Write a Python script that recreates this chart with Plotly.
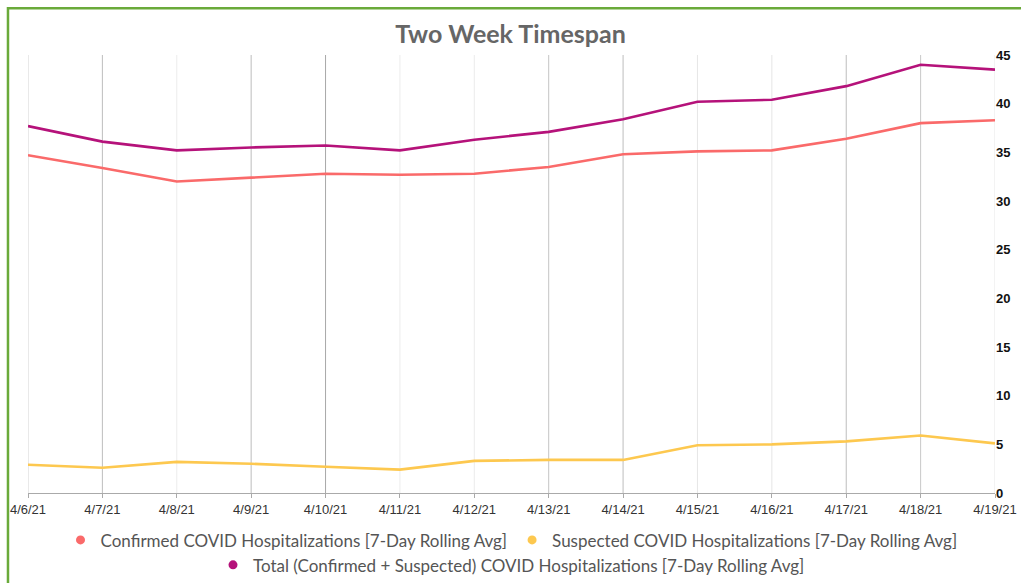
import plotly.graph_objects as go

dates = ["4/6/21", "4/7/21", "4/8/21", "4/9/21", "4/10/21", "4/11/21", "4/12/21",
         "4/13/21", "4/14/21", "4/15/21", "4/16/21", "4/17/21", "4/18/21", "4/19/21"]
confirmed = [34.7, 33.4, 32.0, 32.4, 32.8, 32.7, 32.8, 33.5, 34.8, 35.1, 35.2, 36.4, 38.0, 38.3]
suspected = [2.9, 2.6, 3.2, 3.0, 2.7, 2.4, 3.3, 3.4, 3.4, 4.9, 5.0, 5.3, 5.9, 5.1]
total = [37.7, 36.1, 35.2, 35.5, 35.7, 35.2, 36.3, 37.1, 38.4, 40.2, 40.4, 41.8, 44.0, 43.5]
y_ticks = [0, 5, 10, 15, 20, 25, 30, 35, 40, 45]

# vertical grid lines are drawn in slightly different greys in the original
grid_greys = ["#d4d4d4", "#bdbdbd", "#ececec", "#bdbdbd", "#a9a9a9", "#ececec", "#ececec",
              "#c4c4c4", "#bdbdbd", "#e6e6e6", "#e6e6e6", "#bdbdbd", "#c8c8c8", "#e6e6e6"]

series = [
    ("Confirmed COVID Hospitalizations [7-Day Rolling Avg]", confirmed, "#fa6a6a", "legend"),
    ("Suspected COVID Hospitalizations [7-Day Rolling Avg]", suspected, "#fdc84f", "legend"),
    ("Total (Confirmed + Suspected) COVID Hospitalizations [7-Day Rolling Avg]", total, "#b5127a", "legend2"),
]

fig = go.Figure()
for name, vals, col, lg in series:
    fig.add_trace(go.Scatter(x=dates, y=vals, mode='lines', name=name,
                             line=dict(color=col, width=2.6), showlegend=False))
# legend entries with round dots (two legends so the rows wrap like the original)
for name, vals, col, lg in series:
    fig.add_trace(go.Scatter(x=[None], y=[None], mode='markers', name=name, legend=lg,
                             marker=dict(color=col, size=9)))

for d, g in zip(dates, grid_greys):
    fig.add_vline(x=d, line=dict(color=g, width=1), layer='below')

# green frame round the chart
fig.add_shape(type='rect', xref='paper', yref='paper', x0=-0.0207, x1=1.2, y0=-0.6, y1=1.107,
              line=dict(color='#6aaa3a', width=2.5))

legend_font = dict(family='Lato', size=17, color='#555555')
fig.update_layout(
    width=1021, height=583,
    margin=dict(l=28, r=26, t=55, b=90, autoexpand=False),
    paper_bgcolor='white', plot_bgcolor='white',
    title=dict(text='Two Week Timespan', x=0.5, xanchor='center', y=0.942, yanchor='middle',
               font=dict(family='Lato', size=25, color='#666666', weight='bold')),
    legend=dict(orientation='h', x=0.5, xanchor='center', y=-0.067, yanchor='top',
                font=legend_font, itemwidth=30, bgcolor='rgba(0,0,0,0)'),
    legend2=dict(orientation='h', x=0.5, xanchor='center', y=-0.124, yanchor='top',
                 font=legend_font, itemwidth=30, bgcolor='rgba(0,0,0,0)'),
    xaxis=dict(type='category', showgrid=False, showline=True, linecolor='#aaaaaa',
               ticks='outside', ticklen=4, tickcolor='#aaaaaa',
               tickfont=dict(family='Liberation Sans', size=13, color='#333333'),
               range=[0, len(dates) - 1], zeroline=False),
    yaxis=dict(side='right', range=[0, 45], tickvals=y_ticks, showgrid=False, zeroline=False,
               tickfont=dict(family='Liberation Sans', size=13, color='#111111', weight='bold')),
)

fig.write_html("out.html", config={'displayModeBar': False},
               post_script="document.body.style.margin='0';")
